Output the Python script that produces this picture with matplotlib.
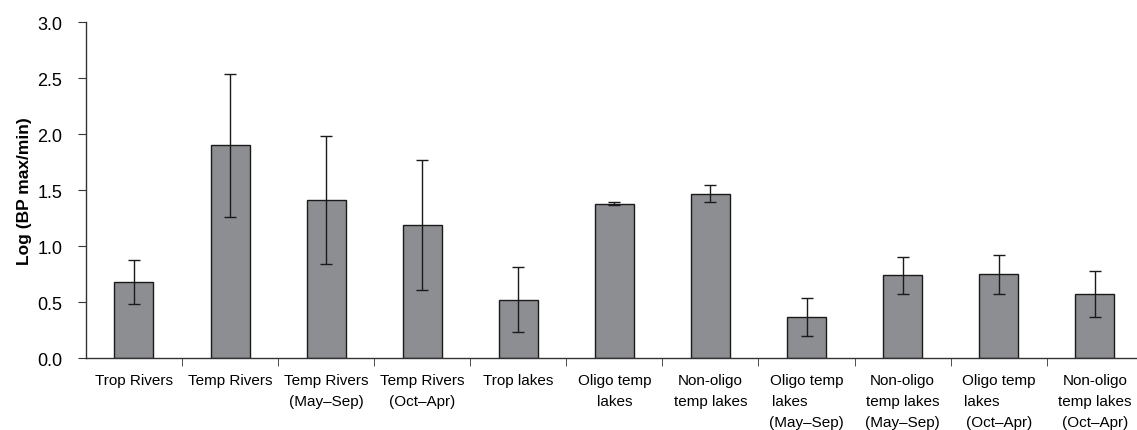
import matplotlib
matplotlib.use("Agg")
import matplotlib.pyplot as plt
import numpy as np

categories = ["Trop Rivers", "Temp Rivers", "Temp Rivers\n(May–Sep)", "Temp Rivers\n(Oct–Apr)",
              "Trop lakes", "Oligo temp\nlakes", "Non-oligo\ntemp lakes",
              "Oligo temp\nlakes        \n(May–Sep)", "Non-oligo\ntemp lakes\n(May–Sep)",
              "Oligo temp\nlakes        \n(Oct–Apr)", "Non-oligo\ntemp lakes\n(Oct–Apr)"]
values = [0.68, 1.90, 1.41, 1.19, 0.52, 1.38, 1.47, 0.37, 0.74, 0.75, 0.57]
errors = [0.20, 0.64, 0.57, 0.58, 0.29, 0.01, 0.08, 0.17, 0.165, 0.175, 0.205]
yticks = [0.0, 0.5, 1.0, 1.5, 2.0, 2.5, 3.0]

plt.rcParams['font.family'] = ['Liberation Sans', 'DejaVu Sans']

fig = plt.figure(figsize=(11.37, 4.31), dpi=100)
ax = fig.add_axes([0.0756, 0.167, 0.9244, 0.779])

x = np.arange(len(categories))
ax.bar(x, values, width=0.406, color='#8d8e92', edgecolor='#1a1a1a', linewidth=1.0,
       yerr=errors, capsize=4, error_kw=dict(ecolor='#1a1a1a', elinewidth=1.0, capthick=1.0), zorder=2)

ax.set_xlim(-0.5, 10.44)
ax.set_ylim(0, 3.0)
ax.set_yticks(yticks)
ax.set_yticklabels([f"{v:.1f}" for v in yticks], fontsize=13)
ax.set_ylabel("Log (BP max/min)", fontsize=12.5, fontweight='bold', labelpad=4)

ax.set_xticks(x)
ax.set_xticklabels([])
ax.tick_params(axis='x', which='major', length=0)
ax.set_xticks(np.arange(0.5, len(categories) - 0.5, 1.0), minor=True)
ax.tick_params(axis='x', which='minor', length=6, color='#333333', direction='out')
ax.tick_params(axis='y', length=6, color='#333333', direction='out', pad=11)

trans = ax.get_xaxis_transform()
for xi, lab in zip(x, categories):
    ax.text(xi, -0.045, lab, transform=trans, ha='center', va='top', fontsize=11,
            linespacing=1.65, clip_on=False)

for s in ['top', 'right']:
    ax.spines[s].set_visible(False)
for s in ['left', 'bottom']:
    ax.spines[s].set_color('#333333')
    ax.spines[s].set_linewidth(1.0)

fig.savefig("out.png", dpi=100)
